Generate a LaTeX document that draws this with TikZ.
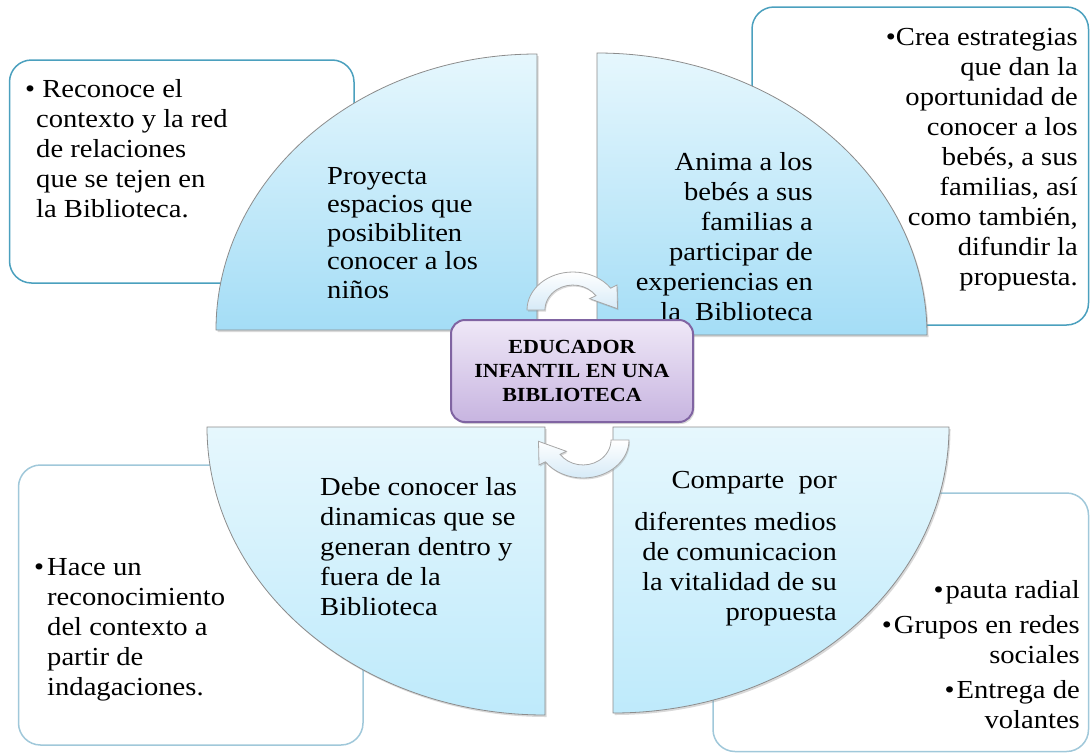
\documentclass[tikz,border=0pt]{standalone}
\usepackage{fontspec}
\setmainfont{Liberation Serif}[FakeStretch=1.1]
\usetikzlibrary{shadows}

\newcommand{\firstln}[1][20pt]{\rule{0pt}{#1}}

\definecolor{boxteal}{RGB}{75,160,190}
\definecolor{boxlight}{RGB}{160,200,218}
\definecolor{quadtop}{RGB}{230,247,253}
\definecolor{quadbot}{RGB}{164,221,246}
\definecolor{quadbotlow}{RGB}{190,234,251}
\definecolor{quadedge}{RGB}{140,140,140}
\definecolor{lilac}{RGB}{128,100,162}
\definecolor{lilactop}{RGB}{239,232,247}
\definecolor{lilacbot}{RGB}{199,180,224}
\definecolor{arrowfill}{RGB}{214,234,247}

\begin{document}
\begin{tikzpicture}[x=1pt, y=-1pt,
    sidebox/.style={draw=boxteal, line width=1.5pt, fill=white, rounded corners=22pt},
    sideboxlight/.style={sidebox, draw=boxlight},
    quadrant/.style={draw=quadedge, line width=0.8pt, top color=quadtop, bottom color=quadbot,
        drop shadow={shadow xshift=1.5pt, shadow yshift=-2pt, opacity=0.3}},
    quadrantlow/.style={quadrant, bottom color=quadbotlow},
    cyclearrow/.style={draw=gray!70, line width=0.8pt, top color=white, bottom color=arrowfill,
        drop shadow={shadow xshift=1pt, shadow yshift=-1.5pt, opacity=0.3}},
    centerbox/.style={draw=lilac, line width=2pt, rounded corners=14pt, top color=lilactop,
        bottom color=lilacbot, minimum width=242pt, minimum height=102pt, align=center,
        inner sep=0pt, font=\bfseries\fontsize{20}{24}\selectfont,
        drop shadow={shadow xshift=1.5pt, shadow yshift=-2pt, opacity=0.3}},
    txt/.style={inner sep=0pt, font=\fontsize{26}{30}\selectfont},
    txtL/.style={txt, anchor=north west, align=left},
    txtR/.style={txt, anchor=north east, align=right}]

    \useasboundingbox (0,0) rectangle (1091,755);

    % Side boxes
    \draw[sidebox] (9.5,60) rectangle (354,283);
    \draw[sidebox] (752,7) rectangle (1088.5,325);
    \draw[sideboxlight] (18.5,465) rectangle (363,745);
    \draw[sideboxlight] (713,493) rectangle (1088.5,751.5);

    % Quadrants
    \draw[quadrant] (537,330) -- (216,330) arc[start angle=180, end angle=270, x radius=321, y radius=276] -- cycle;
    \draw[quadrant] (597,335) -- (597,53) arc[start angle=270, end angle=360, x radius=330, y radius=282] -- cycle;
    \draw[quadrantlow] (545,427) -- (207,427) arc[start angle=180, end angle=90, x radius=338, y radius=288] -- cycle;
    \draw[quadrantlow] (613,427) -- (949,427) arc[start angle=0, end angle=90, x radius=336, y radius=286] -- cycle;

    % Quadrant texts
    \node[txtL, font=\fontsize{26}{28.5}\selectfont] (proyecta) at (327,164)
        {\firstln Proyecta\\espacios que\\posibibliten\\conocer a los\\niños};
    \node[txtR] (anima) at (813,150)
        {\firstln Anima a los\\bebés a sus\\familias a\\participar de\\experiencias en\\la\ \ Biblioteca};
    \node[txtL] (debe) at (320,475)
        {\firstln Debe conocer las\\dinamicas que se\\generan dentro y\\fuera de la\\Biblioteca};
    \node[txtR] (comparte) at (837,468)
        {\firstln Comparte\ \ por\\[12pt]diferentes medios\\de comunicacion\\la vitalidad de su\\propuesta};

    % Side texts
    \node[txtL] (reconoce) at (36,77)
        {\firstln\hspace*{-11pt}\textbullet\ Reconoce el\\contexto y la red\\de relaciones\\que se tejen en\\la Biblioteca.};
    \node[txtR] (crea) at (1078,25)
        {\firstln\textbullet Crea estrategias\\que dan la\\oportunidad de\\conocer a los\\bebés, a sus\\familias, así\\como también,\\difundir la\\propuesta.};
    \node[txtL] (hace) at (47,555)
        {\firstln\llap{\textbullet\hspace{3pt}}Hace un\\reconocimiento\\del contexto a\\partir de\\indagaciones.};
    \node[txtR] (pauta) at (1080,578)
        {\firstln\textbullet\hspace{2pt}pauta radial\\[5pt]\textbullet\hspace{2pt}Grupos en redes\\sociales\\[5pt]\textbullet\hspace{2pt}Entrega de\\volantes};

    % Cycle arrows
    \draw[cyclearrow] (527,310) arc[start angle=180, end angle=325, x radius=46, y radius=38]
        -- (617,285) -- (617.5,308.7) -- (589.6,298.7) -- (595.9,295.7)
        arc[start angle=325, end angle=180, x radius=28, y radius=25] -- cycle;
    \begin{scope}[rotate around={180:(578,375)}]
        \draw[cyclearrow] (527,310) arc[start angle=180, end angle=325, x radius=46, y radius=38]
            -- (617,285) -- (617.5,308.7) -- (589.6,298.7) -- (595.9,295.7)
            arc[start angle=325, end angle=180, x radius=28, y radius=25] -- cycle;
    \end{scope}

    % Center
    \node[centerbox] (edu) at (572,371) {EDUCADOR\\INFANTIL EN UNA\\BIBLIOTECA};

\end{tikzpicture}
\end{document}
